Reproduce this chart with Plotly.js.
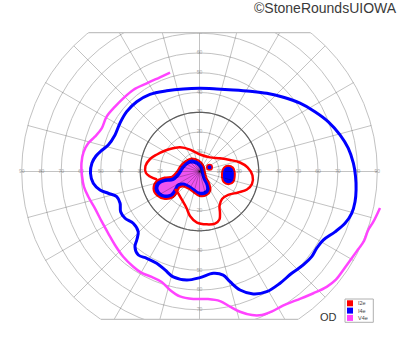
<!DOCTYPE html>
<html><head><meta charset="utf-8">
<script src="https://cdn.plot.ly/plotly-3.0.1.min.js"></script>
<style>
html,body{margin:0;padding:0;overflow:hidden;background:#fff;width:400px;height:352px}
#chart{position:absolute;left:0;top:-20px;width:400px;height:380px}
</style>
</head><body><div id="chart"></div>
<script>
// ---- Goldmann visual field, right eye (OD). r = eccentricity (deg), theta = meridian (deg) ----
const circleTicks = [10,20,30,40,50,60,70,80,90];
const spokeAngles = [0,15,30,45,60,75,90,105,120,135,150,165,180,195,210,225,240,255,270,285,300,315,330,345];
const horizLabelAngles = [0,180];
const vertLabelAngles = [90,270];
const vertLabelTicks = [10,20,30,40,50,60,70];
const highlightCircle = 30;

// I4e isopter (blue, closed)
const i4eR = [55.2,54.6,53.0,50.9,48.1,46.6,47.1,47.7,47.5,46.4,44.1,42.6,42.1,42.7,44.7,48.0,52.2,56.7,61.5,65.8,69.9,73.5,76.2,78.0,79.0,79.8,80.2,79.9,78.2,75.1,71.6,70.9,71.3,70.7,69.5,69.7,69.7,67.7,63.4,57.9,53.8,52.0,53.7,55.3,55.0,52.8,51.3,51.4,52.4,50.2,47.0,43.5,42.6,44.5,44.8,43.3,43.8,47.5,51.2,54.1];
const i4eTheta = [180.8,175.5,171.5,168.2,163.8,156.6,148.8,140.6,132.0,122.7,112.1,101.1,89.7,78.2,67.5,57.8,49.3,41.5,34.2,27.4,21.1,14.6,8.9,3.1,-1.7,-6.7,-11.0,-15.4,-19.6,-24.0,-29.0,-33.2,-37.2,-42.0,-47.8,-54.2,-60.8,-66.3,-71.1,-74.5,-77.1,-82.3,-89.7,-96.7,-104.0,-109.3,-115.0,-121.3,-126.2,-130.6,-132.5,-135.5,-142.0,-147.9,-153.0,-158.2,-163.1,-166.6,-169.5,-173.7];

// V4e isopter (magenta, open)
const v4eR = [52.2,51.7,52.0,53.2,53.5,53.9,54.6,54.1,55.8,58.1,59.5,59.9,59.5,59.0,57.7,56.1,55.6,55.8,56.7,57.9,58.7,59.1,58.6,59.1,61.8,64.0,64.6,64.7,66.4,70.1,73.9,77.4,79.2,79.8,79.9,81.6,84.4,86.9,88.1,88.2,88.7,89.4,90.4,90.4,91.6,93.2];
const v4eTheta = [106.6,112.8,120.9,129.1,136.2,142.5,149.4,156.2,161.6,165.8,170.5,175.9,-177.8,-172.4,-167.2,-160.6,-152.8,-145.9,-139.0,-131.8,-124.8,-119.7,-114.4,-108.9,-104.0,-98.9,-92.8,-86.2,-81.0,-77.3,-73.9,-69.9,-66.5,-62.6,-58.1,-52.9,-46.9,-42.2,-38.4,-34.4,-29.7,-26.2,-22.9,-19.1,-16.1,-11.4];

// I2e isopter (red, runs from scotoma edge around to scotoma edge)
const i2eR = [21.9,25.2,27.1,27.5,25.8,23.2,21.1,18.8,15.7,12.1,8.6,8.9,12.3,16.5,21.0,24.4,26.9,27.3,25.7,22.3,18.8,18.0,20.2,23.4,26.3,27.5,27.0,25.9,23.0,19.6,16.9,15.4,15.2];
const i2eTheta = [-169.3,-174.2,-178.4,174.2,165.8,158.2,151.3,142.7,128.9,113.4,88.3,53.5,32.8,20.7,12.5,4.8,-4.3,-13.4,-20.8,-28.4,-39.2,-50.7,-59.9,-63.7,-67.4,-73.4,-82.2,-92.8,-102.1,-109.6,-121.6,-135.0,-144.5];

// central scotoma: I4e boundary and V4e boundary
const scotI4eR = [6.9,5.0,2.7,1.8,4.4,7.7,10.4,11.5,11.4,9.9,9.3,10.4,13.1,15.5,18.5,21.7,23.7,23.9,21.7,17.9,13.9,10.7,9.1,7.9];
const scotI4eTheta = [126.0,104.7,68.2,-16.0,-54.5,-58.4,-64.1,-74.7,-88.7,-104.7,-122.8,-140.9,-146.0,-141.6,-138.9,-143.5,-151.2,-158.9,-165.2,-166.9,-165.2,-175.9,167.1,146.8];
const scotV4eR = [5.9,4.0,1.8,1.3,4.1,7.5,9.7,10.3,10.1,9.0,8.5,10.0,13.0,15.7,18.4,21.0,22.5,22.4,20.7,17.8,14.0,10.0,8.2,7.0];
const scotV4eTheta = [136.7,116.6,90.0,-53.1,-68.2,-66.0,-70.2,-78.7,-91.4,-106.4,-126.5,-146.3,-151.0,-145.5,-142.8,-146.3,-152.6,-158.1,-162.2,-162.6,-159.9,-169.8,172.9,154.4];

// blind spot (I4e) and small paracentral I4e point
const blindR = [14.7,16.3,16.9,17.1,17.1,15.7,13.8,12.6,12.4,13.1];
const blindTheta = [7.9,4.8,-0.9,-7.7,-15.5,-20.8,-20.4,-12.8,-1.2,6.0];
const dotR = [5.5];
const dotTheta = [22.8];

const legendNames = ['I2e','I4e','V4e'];

// ---- styles / geometry ----
const RED='#ff0000', BLUE='#0000ff', MAG='#ff44ff', MAGFILL='#ee55ee';
const COLORS=[RED,BLUE,MAG];
const W=400,H=380,OFF=20;
const CX=199.5, CY=171.5, PXDEG=1.9756, RMAX=95;
const R=RMAX*PXDEG;
const TOPY=32.7, BOTY=319.3;
const px = x => x/W;
const py = y => 1-(y+OFF)/H;
const closed = a => a.concat([a[0]]);

const spokeR=[], spokeT=[];
spokeAngles.forEach(a=>{spokeR.push(0,90,null);spokeT.push(a,a,null);});
const hcT=[], hcR=[];
for(let t=0;t<=360;t+=3){hcT.push(t);hcR.push(highlightCircle);}
const labR=[], labT=[], labS=[];
circleTicks.forEach(c=>horizLabelAngles.forEach(a=>{labR.push(c);labT.push(a);labS.push(String(c));}));
vertLabelTicks.forEach(c=>vertLabelAngles.forEach(a=>{labR.push(c);labT.push(a);labS.push(String(c));}));

const base={type:'scatterpolar',hoverinfo:'skip',showlegend:false};
const traces=[
 Object.assign({},base,{r:labR,theta:labT,text:labS,mode:'text',textfont:{size:5,color:'#a8a8a8',family:'Liberation Sans, Arial'}}),
 Object.assign({},base,{r:closed(scotI4eR),theta:closed(scotI4eTheta),mode:'lines',line:{color:RED,width:6,shape:'spline'}}),
 Object.assign({},base,{r:closed(blindR),theta:closed(blindTheta),mode:'lines',line:{color:RED,width:5.5,shape:'spline'}}),
 Object.assign({},base,{r:closed(scotI4eR),theta:closed(scotI4eTheta),mode:'lines',fill:'toself',fillcolor:BLUE,line:{color:BLUE,width:0.5,shape:'spline'}}),
 Object.assign({},base,{r:closed(blindR),theta:closed(blindTheta),mode:'lines',fill:'toself',fillcolor:BLUE,line:{color:BLUE,width:0.5,shape:'spline'}}),
 Object.assign({},base,{r:closed(scotV4eR),theta:closed(scotV4eTheta),mode:'lines',fill:'toself',fillcolor:MAGFILL,line:{color:MAGFILL,width:0,shape:'spline'}}),
 Object.assign({},base,{r:spokeR,theta:spokeT,mode:'lines',line:{color:'rgba(0,0,0,0.24)',width:1}}),
 Object.assign({},base,{r:hcR,theta:hcT,mode:'lines',line:{color:'#5c5c5c',width:1.2}}),
 Object.assign({},base,{r:closed(scotI4eR),theta:closed(scotI4eTheta),mode:'lines',line:{color:BLUE,width:2,shape:'spline'}}),
 Object.assign({},base,{r:closed(blindR),theta:closed(blindTheta),mode:'lines',line:{color:BLUE,width:1.5,shape:'spline'}}),
 Object.assign({},base,{r:v4eR,theta:v4eTheta,mode:'lines',line:{color:MAG,width:2.5,shape:'spline'}}),
 Object.assign({},base,{r:closed(i4eR),theta:closed(i4eTheta),mode:'lines',line:{color:BLUE,width:3,shape:'spline'}}),
 Object.assign({},base,{r:i2eR,theta:i2eTheta,mode:'lines',line:{color:RED,width:2.5,shape:'spline'}}),
 Object.assign({},base,{r:dotR,theta:dotTheta,mode:'markers',marker:{size:5.5,color:BLUE,line:{color:RED,width:1.5}}})
];

const r90=90*PXDEG;
const cTop=Math.sqrt(r90*r90-(CY-TOPY)*(CY-TOPY));
const cBot=Math.sqrt(r90*r90-(BOTY-CY)*(BOTY-CY));
const shapes=[
 {type:'rect',xref:'paper',yref:'paper',x0:0,x1:1,y0:py(TOPY),y1:1,fillcolor:'#fff',line:{width:0},layer:'above'},
 {type:'rect',xref:'paper',yref:'paper',x0:0,x1:1,y0:0,y1:py(BOTY),fillcolor:'#fff',line:{width:0},layer:'above'},
 {type:'line',xref:'paper',yref:'paper',x0:px(CX-cTop),x1:px(CX+cTop),y0:py(TOPY),y1:py(TOPY),line:{color:'#c2c2c2',width:1.2},layer:'above'},
 {type:'line',xref:'paper',yref:'paper',x0:px(CX-cBot),x1:px(CX+cBot),y0:py(BOTY),y1:py(BOTY),line:{color:'#c2c2c2',width:1.2},layer:'above'},
 {type:'rect',xref:'paper',yref:'paper',x0:px(345),x1:px(373.3),y0:py(322.3),y1:py(299),fillcolor:'#fff',line:{color:'#b0b0b0',width:1},layer:'above'}
];
const legY=[303.3,310.6,317.9];
const annotations=[
 {text:'©StoneRoundsUIOWA',xref:'paper',yref:'paper',x:px(398.5),y:py(8.5),xanchor:'right',yanchor:'middle',showarrow:false,font:{family:'Liberation Sans, Arial',size:14,color:'#3a3a3a'}},
 {text:'OD',xref:'paper',yref:'paper',x:px(328.8),y:py(316.5),xanchor:'center',yanchor:'middle',showarrow:false,font:{family:'Liberation Sans, Arial',size:11,color:'#333'}}
];
legendNames.forEach((n,i)=>{
  shapes.push({type:'rect',xref:'paper',yref:'paper',x0:px(347),x1:px(353),y0:py(legY[i]+3),y1:py(legY[i]-3),fillcolor:COLORS[i],line:{width:0},layer:'above'});
  annotations.push({text:n,xref:'paper',yref:'paper',x:px(357),y:py(legY[i]),xanchor:'left',yanchor:'middle',showarrow:false,borderpad:0,font:{family:'Liberation Sans, Arial',size:5.5,color:'#444'}});
});

const layout={
 width:W,height:H,margin:{l:0,r:0,t:0,b:0,pad:0},paper_bgcolor:'#fff',showlegend:false,
 polar:{
  domain:{x:[px(CX-R),px(CX+R)],y:[py(CY+R),py(CY-R)]},
  bgcolor:'#fff',
  radialaxis:{range:[0,RMAX],tickvals:circleTicks,showticklabels:false,ticks:'',showline:false,gridcolor:'#c2c2c2',gridwidth:1},
  angularaxis:{showgrid:false,showline:false,showticklabels:false,ticks:'',rotation:0,direction:'counterclockwise'}
 },
 shapes:shapes,annotations:annotations
};
Plotly.newPlot('chart',traces,layout,{staticPlot:true,displayModeBar:false});
</script></body></html>
